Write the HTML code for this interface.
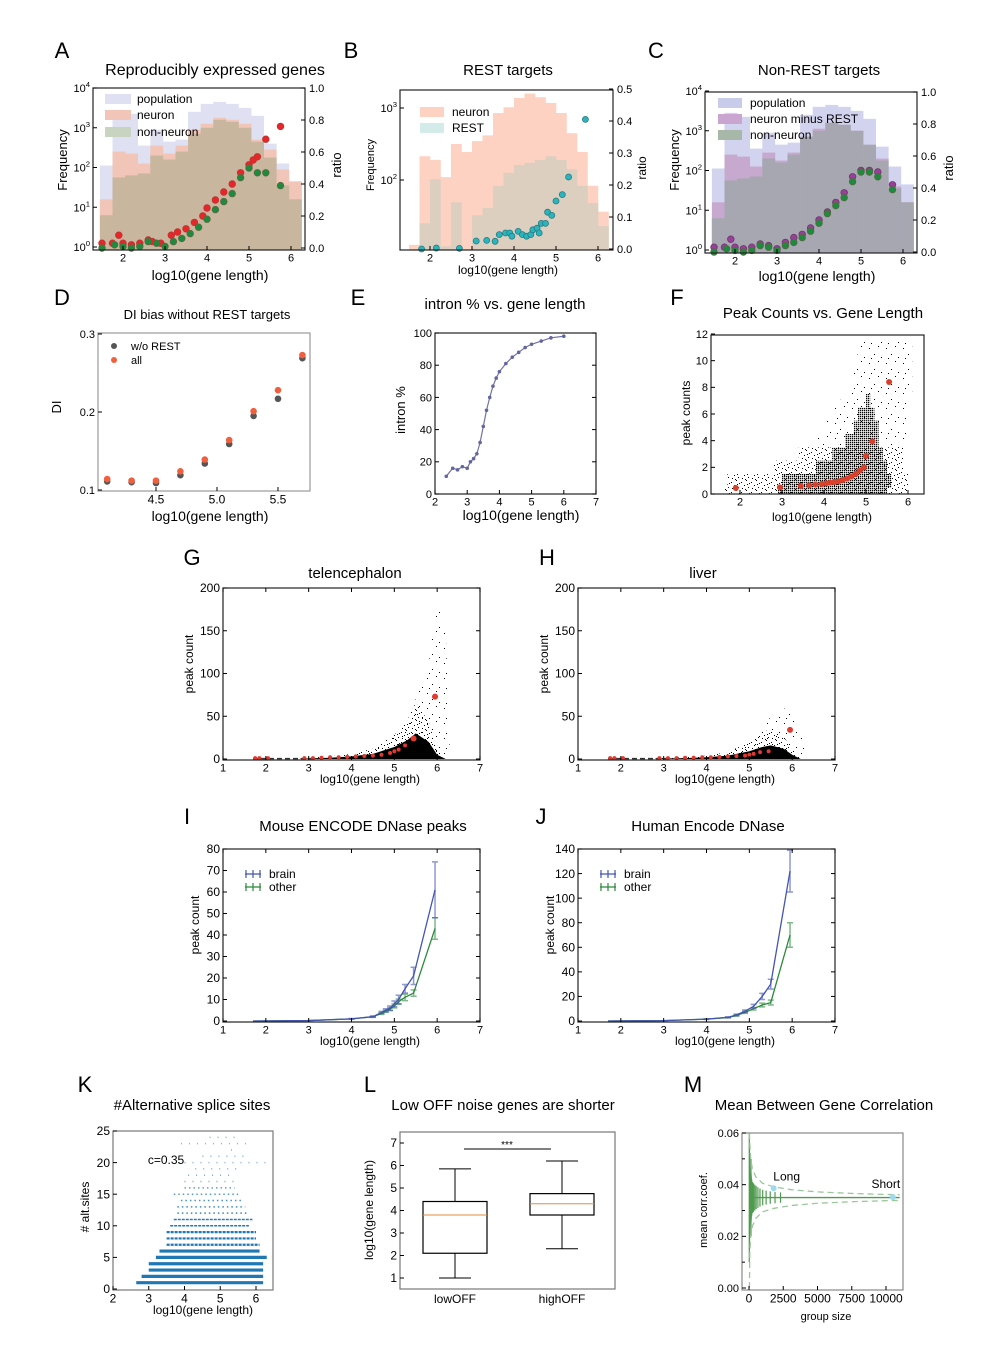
<!DOCTYPE html>
<html><head><meta charset="utf-8"><style>
html,body{margin:0;padding:0;background:#fff;}
svg{display:block;font-family:"Liberation Sans",sans-serif;}
</style></head><body>
<svg id="fig" xmlns="http://www.w3.org/2000/svg" width="1000" height="1368" viewBox="0 0 1000 1368">
<defs>
<pattern id="dense" width="2" height="2" patternUnits="userSpaceOnUse"><rect width="1.3" height="1.3" fill="#000"/></pattern>
<pattern id="sparse" width="10" height="10" patternUnits="userSpaceOnUse"><rect x="1" y="2" width="1" height="1" fill="#000"/><rect x="6" y="0" width="1" height="1" fill="#000"/><rect x="4" y="5" width="1" height="1" fill="#000"/><rect x="8" y="7" width="1" height="1" fill="#000"/><rect x="2" y="8" width="1" height="1" fill="#000"/><rect x="9" y="3" width="1" height="1" fill="#000"/><rect x="5" y="9" width="1" height="1" fill="#000"/><rect x="7" y="4" width="1" height="1" fill="#000"/></pattern>
<pattern id="vsparse" width="17" height="15" patternUnits="userSpaceOnUse"><rect x="2" y="3" width="1" height="1" fill="#000"/><rect x="11" y="1" width="1" height="1" fill="#000"/><rect x="7" y="9" width="1" height="1" fill="#000"/><rect x="14" y="12" width="1" height="1" fill="#000"/><rect x="4" y="13" width="1" height="1" fill="#000"/></pattern>
</defs>
</svg>
<script>
// ---------- DATA ----------
// A
const aBins=[1.45,1.75,2.05,2.35,2.65,2.95,3.25,3.55,3.85,4.15,4.45,4.75,5.05,5.35,5.65,5.95];
const aPop=[2.05,3.45,3.35,2.55,2.95,2.65,2.7,3.4,3.6,3.65,3.6,3.5,3.3,2.6,2.1,1.65];
const aNeu=[1.2,2.4,2.35,2.1,2.55,2.35,2.55,2.95,3.1,3.25,3.2,3.1,2.7,2.45,1.95,1.65];
const aNon=[0.8,1.75,1.8,1.85,2.3,2.2,2.4,2.85,3.0,3.2,3.15,3.0,2.65,2.25,1.55,1.2];
const aRedX=[1.5,1.75,1.9,2.0,2.2,2.4,2.6,2.7,2.9,3.15,3.3,3.5,3.7,3.9,4.0,4.2,4.4,4.6,4.8,5.0,5.1,5.2,5.4,5.75];
const aRedY=[0.03,0.03,0.08,0.03,0.02,0.03,0.05,0.04,0.03,0.08,0.1,0.12,0.16,0.2,0.25,0.3,0.35,0.4,0.47,0.52,0.55,0.57,0.68,0.76];
const aGrnX=[1.5,1.8,2.0,2.2,2.4,2.6,2.8,3.0,3.2,3.4,3.6,3.8,4.0,4.2,4.4,4.6,4.8,5.0,5.2,5.4,5.75];
const aGrnY=[0.0,0.02,0.01,0.0,0.01,0.04,0.03,0.01,0.04,0.06,0.09,0.13,0.18,0.24,0.29,0.34,0.44,0.5,0.47,0.47,0.39];
// B
const bBins=[1.5,1.75,2.0,2.25,2.5,2.75,3.0,3.25,3.5,3.75,4.0,4.25,4.5,4.75,5.0,5.25,5.5,5.75,6.0];
const bNeu=[1.1,2.33,2.28,2.04,2.5,2.39,2.54,2.62,2.93,3.01,3.14,3.2,3.15,3.07,2.93,2.65,2.39,1.92,1.56];
const bRest=[1.0,1.4,2.01,1.08,1.69,1.0,1.51,1.61,1.92,2.1,2.21,2.24,2.28,2.33,2.28,2.15,1.92,1.68,1.36];
const bPtX=[1.8,2.15,2.7,3.1,3.35,3.55,3.65,3.8,3.9,3.95,4.1,4.2,4.3,4.4,4.45,4.55,4.6,4.65,4.75,4.8,4.9,5.0,5.15,5.3,5.7];
const bPtY=[0,0.003,0.002,0.025,0.027,0.024,0.045,0.05,0.05,0.04,0.055,0.045,0.04,0.045,0.06,0.065,0.05,0.08,0.08,0.115,0.105,0.15,0.17,0.225,0.405];
// C
const cPop=[2.05,3.45,3.35,2.55,2.95,2.65,2.7,3.4,3.6,3.65,3.6,3.5,3.3,2.6,2.1,1.65];
const cNeu=[1.2,2.4,2.35,2.1,2.45,2.25,2.45,2.85,3.05,3.2,3.15,3.0,2.6,2.3,1.6,1.2];
const cNon=[0.8,1.75,1.8,1.85,2.3,2.2,2.4,2.85,3.0,3.2,3.15,3.0,2.65,2.25,1.55,1.2];
const cPurX=[1.5,1.75,1.9,2.0,2.2,2.4,2.6,2.8,3.0,3.2,3.4,3.6,3.8,4.0,4.2,4.4,4.6,4.8,5.0,5.2,5.4,5.75];
const cPurY=[0.03,0.03,0.08,0.03,0.02,0.03,0.05,0.04,0.02,0.06,0.09,0.11,0.15,0.2,0.25,0.31,0.37,0.47,0.51,0.51,0.5,0.42];
const cGrnX=[1.5,1.8,2.0,2.2,2.4,2.6,2.8,3.0,3.2,3.4,3.6,3.8,4.0,4.2,4.4,4.6,4.8,5.0,5.2,5.4,5.75];
const cGrnY=[0.0,0.02,0.01,0.0,0.01,0.04,0.03,0.01,0.04,0.06,0.09,0.13,0.18,0.24,0.29,0.34,0.44,0.5,0.5,0.47,0.39];
// D
const dX=[4.1,4.3,4.5,4.7,4.9,5.1,5.3,5.5,5.7];
const dWo=[0.111,0.11,0.109,0.119,0.134,0.159,0.195,0.217,0.269];
const dAll=[0.114,0.112,0.112,0.124,0.139,0.164,0.201,0.228,0.273];
// E
const eX=[2.35,2.55,2.7,2.85,3.0,3.1,3.2,3.3,3.4,3.5,3.6,3.7,3.8,3.9,4.0,4.2,4.4,4.6,4.8,5.0,5.3,5.6,6.0];
const eY=[11,16,15,17,16,20,22,25,32,42,52,60,67,72,76,81,85,88,91,93,95,97,98];
// F
const fLevel=[0,1,2,3,4,5,6,7,8,9,10,11];
const fSparseStart=[1.6,1.7,2.8,3.4,3.8,4.0,4.2,4.4,4.6,4.7,4.8,4.8];
const fSparseEnd=[6.0,6.0,5.9,5.9,6.0,6.0,6.0,6.0,6.1,6.1,6.1,6.1];
const fDenseStart=[2.9,3.0,3.8,4.2,4.5,4.7,4.8,5.0,5.1,5.1,5.1,5.1];
const fDenseEnd=[5.5,5.6,5.5,5.4,5.3,5.3,5.2,5.1,5.1,5.1,5.1,5.1];
const fMeanX=[1.9,2.95,3.45,3.65,3.8,3.95,4.05,4.15,4.25,4.35,4.45,4.55,4.65,4.75,4.85,4.95,5.0,5.15,5.55];
const fMeanY=[0.45,0.5,0.6,0.65,0.7,0.75,0.8,0.85,0.9,0.95,1.05,1.15,1.3,1.5,1.75,2.0,2.85,3.95,8.4];
// G / H
const gX=[2.8,3.5,4.0,4.5,5.0,5.3,5.5,5.8,6.0,6.2,6.3];
const gSparse=[1,3,6,12,28,45,70,110,185,150,0];
const gDense=[0.5,1.5,3,6,14,22,30,20,5,0,0];
const gMeanX=[1.75,1.85,2.05,2.9,3.1,3.3,3.5,3.7,3.9,4.1,4.3,4.5,4.7,4.9,5.0,5.1,5.25,5.45,5.95];
const gMeanY=[1,1,1,1,1,1.5,2,2,2.5,3,3.5,4,5,7,9,11,16,24,73];
const hX=[2.8,3.5,4.0,4.5,5.0,5.3,5.5,5.8,6.0,6.2,6.35];
const hSparse=[1,2,4,8,20,32,50,60,50,30,0];
const hDense=[0.5,1,2,4,9,14,16,12,5,0,0];
const hMeanX=[1.75,1.85,2.05,2.9,3.1,3.3,3.5,3.7,3.9,4.1,4.3,4.5,4.7,4.9,5.0,5.1,5.25,5.45,5.95];
const hMeanY=[1,1,1,1,1,1,1.5,1.5,2,2,2.5,3,3.5,4,5,6,8,9,34];
// I / J
const iX=[1.7,3.0,4.0,4.5,4.7,4.8,4.9,5.0,5.1,5.25,5.45,5.95];
const iBrain=[0,0.2,1,2,4,5,6,8,10,15,21,61];
const iBrainErr=[0,0,0.1,0.3,0.5,0.7,1,1.3,2,2,4,13];
const iOther=[0,0.2,1,2,3.5,4.5,5.5,7,9,11,13,43];
const iOtherErr=[0,0,0.1,0.2,0.4,0.5,0.7,0.9,1.2,1.5,1.5,5];
const jX=[1.7,3.0,4.0,4.5,4.7,4.9,5.1,5.3,5.5,5.95];
const jBrain=[0,0.3,1.5,3,5,8,12,20,30,122];
const jBrainErr=[0,0,0.2,0.4,0.6,1,1.5,2.5,4,17];
const jOther=[0,0.3,1.5,2.8,4.5,7,10,13,15,70];
const jOtherErr=[0,0,0.2,0.3,0.5,0.8,1,1.5,2,10];
// K
const kRows=[1,2,3,4,5,6,7,8,9,10,11,12,13,14,15,16,17,18,19,20,21,22,23,24];
const kStart=[2.65,2.8,3.0,3.0,3.2,3.3,3.5,3.5,3.5,3.6,3.7,3.8,3.8,3.9,3.7,4.0,4.0,4.1,4.3,4.0,4.5,5.3,3.9,4.7];
const kEnd=[6.2,6.2,6.2,6.2,6.3,6.1,6.1,6.0,6.0,5.8,5.9,5.8,5.7,5.6,5.5,5.4,5.4,5.3,5.5,6.4,5.7,5.4,5.9,5.5];
const kDensity=[1,1,1,1,1,0.9,0.8,0.7,0.6,0.5,0.45,0.4,0.35,0.3,0.25,0.2,0.15,0.12,0.1,0.08,0.06,0.05,0.05,0.05];
// L
const lCats=['lowOFF','highOFF'];
const lMin=[1.0,2.3];
const lQ1=[2.1,3.8];
const lMed=[3.8,4.3];
const lQ3=[4.4,4.75];
const lMax=[5.85,6.2];
// M
const mMean=[0.035];
const mEnvX=[30,60,120,250,500,1000,1800,3000,5000,7500,10000,11000];
const mEnvUp=[0.06,0.056,0.05,0.046,0.043,0.0405,0.0392,0.0381,0.0372,0.0366,0.0362,0.0361];
const mEnvLo=[0.0,0.014,0.02,0.024,0.027,0.0295,0.0308,0.0319,0.0328,0.0334,0.0338,0.0339];
const mBarX=[20,40,60,80,100,130,160,200,260,330,420,520,650,800,1000,1250,1550,1900,2300];
const mBarHalf=[0.025,0.02,0.015,0.012,0.01,0.009,0.008,0.007,0.006,0.0055,0.005,0.0045,0.004,0.0035,0.003,0.0027,0.0024,0.0022,0.002];
const mPtX=[1800,10500];
const mPtY=[0.0386,0.0352];
const mPtLab=['Long','Short'];

// ---------- HELPERS ----------
const svg=document.getElementById('fig');
const NS='http://www.w3.org/2000/svg';
function mk(tag,name,attrs,parent){
  const e=document.createElementNS(NS,tag);
  
  
  for(const k in attrs)e.setAttribute(k,attrs[k]);
  (parent||svg).appendChild(e);return e;}
function txt(x,y,s,size,anchor,name,rot){
  const e=mk('text',name,{x:x,y:y,'font-size':size,'text-anchor':anchor||'middle',fill:'#000'});
  if(rot)e.setAttribute('transform','rotate(-90 '+x+' '+y+')');
  e.textContent=s;return e;}
function sup(x,y,base,ex,size,anchor,name){
  const e=mk('text',name,{x:x,y:y,'font-size':size,'text-anchor':anchor,fill:'#000'});
  e.appendChild(document.createTextNode(base));
  const t=mk('tspan',name+'-exp',{dy:-5,'font-size':size*0.7},e);t.textContent=ex;return e;}
function lin(d0,d1,r0,r1){return v=>r0+(v-d0)*(r1-r0)/(d1-d0);}
function frame(x0,y0,x1,y1,name,col){mk('rect',name,{x:x0,y:y0,width:x1-x0,height:y1-y0,fill:'none',stroke:col||'#222','stroke-width':1.2});}
function xticks(sx,vals,labs,yb,size,name,y0){vals.forEach((v,i)=>{const x=sx(v);
  mk('line',name+'-tick',{x1:x,x2:x,y1:yb,y2:yb-4,stroke:'#000'});
  if(y0!==undefined)mk('line',name+'-tick-top',{x1:x,x2:x,y1:y0,y2:y0+4,stroke:'#000'});
  txt(x,yb+size+0.5,labs[i],size,'middle',name+'-label');});}
function yticks(sy,vals,labs,xl,size,name,x1){vals.forEach((v,i)=>{const y=sy(v);
  mk('line',name+'-tick',{x1:xl,x2:xl+4,y1:y,y2:y,stroke:'#000'});
  if(x1!==undefined)mk('line',name+'-tick-right',{x1:x1,x2:x1-4,y1:y,y2:y,stroke:'#000'});
  txt(xl-3,y+size*0.35,labs[i],size,'end',name+'-label');});}
function rticks(sy,vals,labs,xr,size,name){vals.forEach((v,i)=>{const y=sy(v);
  mk('line',name+'-tick',{x1:xr,x2:xr-4,y1:y,y2:y,stroke:'#000'});
  txt(xr+4,y+size*0.35,labs[i],size,'start',name+'-label');});}
function dots(xs,ys,sx,sy,r,fill,stroke,name){xs.forEach((v,i)=>{mk('circle',name,{cx:sx(v),cy:sy(ys[i]),r:r,fill:fill,stroke:stroke||'none','stroke-width':0.8});});}
function hist(bins,vals,w,sx,sy,yb,fill,name,ytop){bins.forEach((b,i)=>{const x0=sx(b),x1=sx(b+w);let y=sy(vals[i]);if(ytop!==undefined)y=Math.max(y,ytop);
  if(y<yb)mk('rect',name,{x:x0,y:y,width:x1-x0+0.3,height:yb-y,fill:fill});});}
function letter(x,y,s){txt(x,y,s,22,'middle','panel-letter-'+s);}

// ---------- PANEL A ----------
(function(){
 const sx=lin(2,6,123,291),sy=lin(0,4,247,88),sr=lin(0,1,248,88);
 hist(aBins,aPop,0.3,sx,sy,250,'#dfe0f1','a-population-bar',89);
 hist(aBins,aNeu,0.3,sx,sy,250,'#f1c5b8','a-neuron-bar',89);
 hist(aBins,aNon,0.3,sx,sy,250,'#c9b69f','a-nonneuron-bar',89);
 dots(aRedX,aRedY,sx,sr,3.3,'#e8262a','#b33','a-neuron-ratio-point');
 dots(aGrnX,aGrnY,sx,sr,3.3,'#1e8a3e','#5a6a40','a-nonneuron-ratio-point');
 frame(93,88,305,250,'a-axes');
 xticks(sx,[2,3,4,5,6],['2','3','4','5','6'],250,11,'a-x');
 [0,1,2,3,4].forEach(v=>{const y=sy(v);mk('line','a-y-tick',{x1:93,x2:97,y1:y,y2:y,stroke:'#000'});sup(90,y+4,'10',String(v),11,'end','a-y-label');});
 rticks(sr,[0,0.2,0.4,0.6,0.8,1.0],['0.0','0.2','0.4','0.6','0.8','1.0'],305,11,'a-ratio');
 [['population','#dfe0f1',103],['neuron','#f1c5b8',119],['non-neuron','#c9d4c0',136]].forEach(l=>{mk('rect','a-legend-swatch',{x:105,y:l[2]-9,width:26,height:10,fill:l[1]});txt(137,l[2],l[0],12,'start','a-legend-label');});
 letter(62,58,'A');txt(215,75,'Reproducibly expressed genes',16,'middle','a-title');
 txt(210,280,'log10(gene length)',14,'middle','a-x-title');
 txt(67,160,'Frequency',13,'middle','a-y-title',true);txt(341,165,'ratio',13,'middle','a-ratio-title',true);
})();
// ---------- PANEL B ----------
(function(){
 const sx=lin(2,6,430,598),sy=lin(2,3,180,108),sr=lin(0,0.5,249,89);
 hist(bBins,bNeu,0.25,sx,sy,250,'#fdd2c2','b-neuron-bar',90);
 hist(bBins,bRest,0.25,sx,sy,250,'#dccfc0','b-rest-bar',90);
 dots(bPtX,bPtY,sx,sr,3,'#2ab5bd','#2a7a80','b-ratio-point');
 frame(400,90,613,250,'b-axes');
 xticks(sx,[2,3,4,5,6],['2','3','4','5','6'],250,11,'b-x');
 [2,3].forEach(v=>{const y=sy(v);mk('line','b-y-tick',{x1:400,x2:404,y1:y,y2:y,stroke:'#000'});sup(397,y+4,'10',String(v),11,'end','b-y-label');});
 rticks(sr,[0,0.1,0.2,0.3,0.4,0.5],['0.0','0.1','0.2','0.3','0.4','0.5'],613,11,'b-ratio');
 [['neuron','#fdd2c2',116],['REST','#d3ecea',132]].forEach(l=>{mk('rect','b-legend-swatch',{x:420,y:l[2]-9,width:24,height:10,fill:l[1]});txt(452,l[2],l[0],12,'start','b-legend-label');});
 letter(351,58,'B');txt(508,75,'REST targets',15,'middle','b-title');
 txt(508,274,'log10(gene length)',12,'middle','b-x-title');
 txt(374,165,'Frequency',11,'middle','b-y-title',true);txt(646,168,'ratio',12,'middle','b-ratio-title',true);
})();
// ---------- PANEL C ----------
(function(){
 const sx=lin(2,6,735,903),sy=lin(0,4,250,91),sr=lin(0,1,252,92);
 hist(aBins,cPop,0.3,sx,sy,253,'#d2d3ee','c-population-bar',92);
 hist(aBins,cNeu,0.3,sx,sy,253,'#c7a9cf','c-neuron-minus-rest-bar',92);
 hist(aBins,cNon,0.3,sx,sy,253,'#a7a7b2','c-nonneuron-bar',92);
 dots(cPurX,cPurY,sx,sr,3.3,'#9b3d9c','#6a3a6a','c-neuron-ratio-point');
 dots(cGrnX,cGrnY,sx,sr,3.3,'#1e8a3e','#556a40','c-nonneuron-ratio-point');
 frame(705,92,917,253,'c-axes');
 xticks(sx,[2,3,4,5,6],['2','3','4','5','6'],253,11,'c-x');
 [0,1,2,3,4].forEach(v=>{const y=sy(v);mk('line','c-y-tick',{x1:705,x2:709,y1:y,y2:y,stroke:'#000'});sup(702,y+4,'10',String(v),11,'end','c-y-label');});
 rticks(sr,[0,0.2,0.4,0.6,0.8,1.0],['0.0','0.2','0.4','0.6','0.8','1.0'],917,11,'c-ratio');
 [['population','#c8cbea',107],['neuron minus REST','#c9a5cf',123],['non-neuron','#a8b8a8',139]].forEach(l=>{mk('rect','c-legend-swatch',{x:718,y:l[2]-9,width:24,height:10,fill:l[1]});txt(750,l[2],l[0],12,'start','c-legend-label');});
 letter(656,58,'C');txt(819,75,'Non-REST targets',15,'middle','c-title');
 txt(817,281,'log10(gene length)',14,'middle','c-x-title');
 txt(679,160,'Frequency',13,'middle','c-y-title',true);txt(953,168,'ratio',13,'middle','c-ratio-title',true);
})();
// ---------- PANEL D ----------
(function(){
 const sx=lin(4.5,5.5,156,278),sy=lin(0.1,0.3,490,334);
 dots(dX,dWo,sx,sy,3.3,'#555','none','d-wo-rest-point');
 dots(dX,dAll,sx,sy,3.3,'#f0603e','none','d-all-point');
 frame(98,333,310,491,'d-axes','#999');
 xticks(sx,[4.5,5.0,5.5],['4.5','5.0','5.5'],491,12,'d-x');
 yticks(sy,[0.1,0.2,0.3],['0.1','0.2','0.3'],98,11,'d-y');
 mk('circle','d-legend-marker',{cx:114,cy:346,r:3,fill:'#555'});txt(131,350,'w/o REST',11,'start','d-legend-label');
 mk('circle','d-legend-marker',{cx:114,cy:360,r:3,fill:'#f0603e'});txt(131,364,'all',11,'start','d-legend-label');
 letter(62,305,'D');txt(207,319,'DI bias without REST targets',13,'middle','d-title');
 txt(210,521,'log10(gene length)',14,'middle','d-x-title');txt(61,407,'DI',13,'middle','d-y-title',true);
})();
// ---------- PANEL E ----------
(function(){
 const sx=lin(2,7,435,596),sy=lin(0,100,494,333);
 mk('polyline','e-intron-line',{points:eX.map((v,i)=>sx(v)+','+sy(eY[i])).join(' '),fill:'none',stroke:'#7072a8','stroke-width':1.2});
 dots(eX,eY,sx,sy,1.8,'#6466a0','none','e-intron-point');
 frame(435,333,596,494,'e-axes');
 xticks(sx,[2,3,4,5,6,7],['2','3','4','5','6','7'],494,11,'e-x');
 yticks(sy,[0,20,40,60,80,100],['0','20','40','60','80','100'],435,11,'e-y',596);
 letter(358,305,'E');txt(505,309,'intron % vs. gene length',15,'middle','e-title');
 txt(521,520,'log10(gene length)',14,'middle','e-x-title');txt(405,410,'intron %',13,'middle','e-y-title',true);
})();
// ---------- PANEL F ----------
(function(){
 const sx=lin(2,6,740,908),sy=lin(0,12,494,334);
 fLevel.forEach((lv,i)=>{const y0=sy(lv+0.5),y1=sy(Math.max(lv-0.5,0));
  mk('rect','f-cloud-sparse',{x:sx(fSparseStart[i]),y:y0,width:sx(fSparseEnd[i])-sx(fSparseStart[i]),height:y1-y0,fill:lv<4?'url(#sparse)':'url(#vsparse)'});
  if(fDenseEnd[i]>fDenseStart[i])mk('rect','f-cloud-dense',{x:sx(fDenseStart[i]),y:y0,width:sx(fDenseEnd[i])-sx(fDenseStart[i]),height:y1-y0,fill:'url(#dense)'});});
 dots(fMeanX,fMeanY,sx,sy,3,'#d9402b','none','f-mean-point');
 frame(711,335,924,494,'f-axes');
 xticks(sx,[2,3,4,5,6],['2','3','4','5','6'],494,11,'f-x');
 yticks(sy,[0,2,4,6,8,10,12],['0','2','4','6','8','10','12'],711,11,'f-y');
 letter(677,305,'F');txt(823,318,'Peak Counts vs. Gene Length',15,'middle','f-title');
 txt(822,521,'log10(gene length)',12,'middle','f-x-title');txt(690,413,'peak counts',12,'middle','f-y-title',true);
})();
// ---------- PANELS G / H ----------
function cloudPanel(p,x0,xs,sp,de,mx,my,title,L,lx,tx){
 const sx=lin(1,7,x0,x0+257),sy=lin(0,200,759,588);
 const poly=(arr)=>[[xs[0],0]].concat(xs.map((v,i)=>[v,arr[i]])).concat([[xs[xs.length-1],0]]).map(q=>sx(q[0])+','+sy(q[1])).join(' ');
 mk('polygon',p+'-cloud-sparse',{points:poly(sp),fill:'url(#vsparse)'});
 mk('polygon',p+'-cloud-medium',{points:poly(sp.map((v,i)=>Math.min(v,de[i]*2.2))),fill:'url(#sparse)'});
 mk('polygon',p+'-cloud-dense',{points:poly(de),fill:'#000'});
 mk('line',p+'-zero-band',{x1:sx(1.7),x2:sx(3.2),y1:sy(0.5),y2:sy(0.5),stroke:'#333','stroke-width':1.5,'stroke-dasharray':'5 3'});
 mx.forEach((v,i)=>{mk('circle',p+'-mean-point',{cx:sx(v),cy:sy(my[i]),r:my[i]>20?3:2,fill:'#e03a30'});});
 frame(x0,588,x0+257,760,p+'-axes');
 xticks(sx,[1,2,3,4,5,6,7],['1','2','3','4','5','6','7'],760,11,p+'-x',588);
 yticks(sy,[0,50,100,150,200],['0','50','100','150','200'],x0,12,p+'-y',x0+257);
 letter(lx,565,L);txt(tx,578,title,15,'middle',p+'-title');
 txt(x0+147,783,'log10(gene length)',12,'middle',p+'-x-title');txt(x0-30,664,'peak count',12,'middle',p+'-y-title',true);
}
cloudPanel('g',223,gX,gSparse,gDense,gMeanX,gMeanY,'telencephalon','G',192,355);
cloudPanel('h',578,hX,hSparse,hDense,hMeanX,hMeanY,'liver','H',547,703);
// ---------- PANELS I / J ----------
function linePanel(p,x0,ymax,ystep,xs,b,be,o,oe,title,L,lx,tx){
 const sx=lin(1,7,x0,x0+257),sy=lin(0,ymax,1021,849);
 [[o,oe,'#2a8a3a','other'],[b,be,'#4455b0','brain']].forEach(s=>{
  mk('polyline',p+'-'+s[3]+'-line',{points:xs.map((v,i)=>sx(v)+','+sy(s[0][i])).join(' '),fill:'none',stroke:s[2],'stroke-width':1.3});
  xs.forEach((v,i)=>{if(s[1][i]>0){const x=sx(v);mk('path',p+'-'+s[3]+'-errorbar',{d:'M'+x+' '+sy(s[0][i]-s[1][i])+'V'+sy(s[0][i]+s[1][i])+'M'+(x-3)+' '+sy(s[0][i]-s[1][i])+'h6M'+(x-3)+' '+sy(s[0][i]+s[1][i])+'h6',stroke:s[2],'stroke-opacity':0.6,'stroke-width':1.5,fill:'none'});}});});
 frame(x0,849,x0+257,1022,p+'-axes');
 const yv=[];for(let v=0;v<=ymax;v+=ystep)yv.push(v);
 xticks(sx,[1,2,3,4,5,6,7],['1','2','3','4','5','6','7'],1022,11,p+'-x',849);
 yticks(sy,yv,yv.map(String),x0,12,p+'-y',x0+257);
 [['brain','#4455b0',0],['other','#2a8a3a',13]].forEach(l=>{const y=874+l[2];
  mk('path',p+'-legend-marker',{d:'M'+(x0+22)+' '+y+'h16M'+(x0+30)+' '+(y-4)+'v8M'+(x0+23)+' '+(y-4)+'v8M'+(x0+37)+' '+(y-4)+'v8',stroke:l[1],fill:'none','stroke-width':1.2});
  txt(x0+46,y+4,l[0],12,'start',p+'-legend-label');});
 letter(lx,824,L);txt(tx,831,title,15,'middle',p+'-title');
 txt(x0+147,1045,'log10(gene length)',12,'middle',p+'-x-title');txt(x0-24,925,'peak count',12,'middle',p+'-y-title',true);
}
linePanel('i',223,80,10,iX,iBrain,iBrainErr,iOther,iOtherErr,'Mouse ENCODE DNase peaks','I',187,363);
linePanel('j',578,140,20,jX,jBrain,jBrainErr,jOther,jOtherErr,'Human Encode DNase','J',541,708);
// ---------- PANEL K ----------
(function(){
 const sx=lin(2,6,113,256),sy=lin(0,25,1289,1131);
 kRows.forEach((r,i)=>{const d=kDensity[i];const y=sy(r);
  mk('line','k-row-points',{x1:sx(kStart[i]),x2:sx(kEnd[i]),y1:y,y2:y,stroke:'#1f77b4','stroke-width':d>0.85?3.2:(d>0.5?2.2:1.5),'stroke-dasharray':d>=0.9?'none':(d>0.4?'3 1':(d>0.15?'1.5 3':'1 7')),'stroke-opacity':Math.min(1,0.5+d)});});
 frame(113,1131,273,1290,'k-axes','#777');
 xticks(sx,[2,3,4,5,6],['2','3','4','5','6'],1290,12,'k-x');
 yticks(sy,[0,5,10,15,20,25],['0','5','10','15','20','25'],113,12,'k-y');
 txt(166,1164,'c=0.35',12,'middle','k-correlation-label');
 letter(85,1092,'K');txt(192,1110,'#Alternative splice sites',15,'middle','k-title');
 txt(203,1314,'log10(gene length)',12,'middle','k-x-title');txt(89,1207,'# alt.sites',12,'middle','k-y-title',true);
})();
// ---------- PANEL L ----------
(function(){
 const sy=lin(1,7,1278,1143);const cx=[455,562],hw=[32,32];
 lCats.forEach((c,i)=>{const x=cx[i];
  mk('line','l-whisker',{x1:x,x2:x,y1:sy(lMin[i]),y2:sy(lQ1[i]),stroke:'#000'});
  mk('line','l-whisker',{x1:x,x2:x,y1:sy(lQ3[i]),y2:sy(lMax[i]),stroke:'#000'});
  mk('line','l-cap',{x1:x-16,x2:x+16,y1:sy(lMin[i]),y2:sy(lMin[i]),stroke:'#000'});
  mk('line','l-cap',{x1:x-16,x2:x+16,y1:sy(lMax[i]),y2:sy(lMax[i]),stroke:'#000'});
  mk('rect','l-box-'+c,{x:x-hw[i],y:sy(lQ3[i]),width:hw[i]*2,height:sy(lQ1[i])-sy(lQ3[i]),fill:'none',stroke:'#000','stroke-width':1.2});
  mk('line','l-median',{x1:x-hw[i],x2:x+hw[i],y1:sy(lMed[i]),y2:sy(lMed[i]),stroke:'#e88a3a'});
  txt(x,1303,c,12,'middle','l-x-label');});
 mk('line','l-significance-bar',{x1:464,x2:551,y1:1149,y2:1149,stroke:'#000'});
 txt(507,1148,'***',10,'middle','l-significance-label');
 frame(400,1132,615,1289,'l-axes','#777');
 yticks(sy,[1,2,3,4,5,6,7],['1','2','3','4','5','6','7'],400,12,'l-y');
 letter(370,1092,'L');txt(503,1110,'Low OFF noise genes are shorter',15,'middle','l-title');
 txt(373,1210,'log10(gene length)',12,'middle','l-y-title',true);
})();
// ---------- PANEL M ----------
(function(){
 const sx=lin(0,10000,749,886),sy=lin(0,0.06,1288,1133);
 mk('rect','m-dense-region',{x:sx(0),y:sy(0.05),width:3,height:sy(0.02)-sy(0.05),fill:'#5d9a5d','fill-opacity':0.6});
 mBarX.forEach((v,i)=>{const x=sx(v);mk('line','m-error-bar',{x1:x,x2:x,y1:sy(mMean[0]-mBarHalf[i]),y2:sy(mMean[0]+mBarHalf[i]),stroke:'#4f9a4f','stroke-width':1.2});});
 mk('line','m-mean-line',{x1:sx(0),x2:sx(11000),y1:sy(mMean[0]),y2:sy(mMean[0]),stroke:'#4f9a4f','stroke-width':1.3});
 mk('polyline','m-upper-envelope',{points:mEnvX.map((v,i)=>sx(v)+','+sy(mEnvUp[i])).join(' '),fill:'none',stroke:'#9cc79c','stroke-width':1.3,'stroke-dasharray':'6 4'});
 mk('polyline','m-lower-envelope',{points:mEnvX.map((v,i)=>sx(v)+','+sy(mEnvLo[i])).join(' '),fill:'none',stroke:'#9cc79c','stroke-width':1.3,'stroke-dasharray':'6 4'});
 mPtX.forEach((v,i)=>{mk('circle','m-point-'+mPtLab[i].toLowerCase(),{cx:sx(v),cy:sy(mPtY[i]),r:3,fill:'#9fd8ef'});});
 txt(sx(mPtX[0])+13,sy(mPtY[0])-8,mPtLab[0],12,'middle','m-long-label');
 txt(sx(mPtX[1])-7,sy(mPtY[1])-9,mPtLab[1],12,'middle','m-short-label');
 frame(742,1133,903,1290,'m-axes','#888');
 xticks(sx,[0,2500,5000,7500,10000],['0','2500','5000','7500','10000'],1290,12,'m-x');
 yticks(sy,[0,0.02,0.04,0.06],['0.00','0.02','0.04','0.06'],742,11,'m-y');
 [0.01,0.03,0.05].forEach(v=>mk('line','m-y-minor-tick',{x1:742,x2:745,y1:sy(v),y2:sy(v),stroke:'#000'}));
 letter(693,1092,'M');txt(824,1110,'Mean Between Gene Correlation',15,'middle','m-title');
 txt(826,1320,'group size',11,'middle','m-x-title');txt(707,1210,'mean corr.coef.',11,'middle','m-y-title',true);
})();
</script>
</body></html>
